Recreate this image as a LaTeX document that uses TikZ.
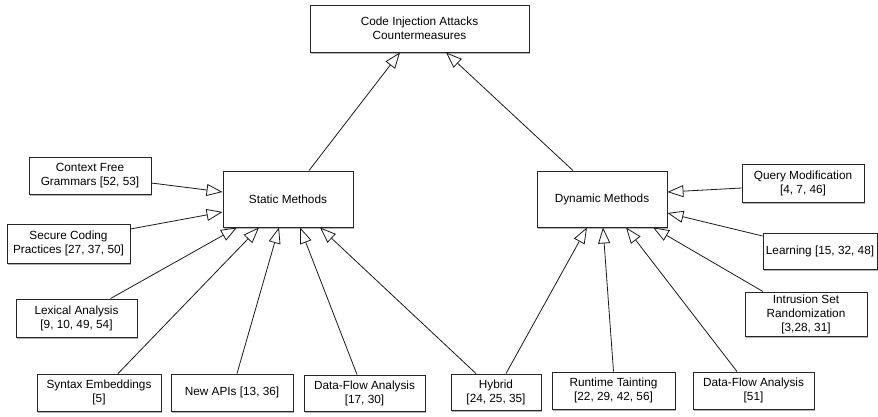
\documentclass[tikz,border=0pt]{standalone}
\usepackage{fontspec}
\setmainfont{Liberation Sans}
\usetikzlibrary{arrows.meta,shadows}

\tikzset{
    box/.style={draw=black!85, line width=0.9pt, fill=white, align=center,
        inner sep=0pt, font=\fontsize{11.8}{14}\selectfont,
        drop shadow={shadow xshift=1.2pt, shadow yshift=-2.2pt,
            fill=black, opacity=0.3}},
    isa/.style={draw=black!90, line width=0.8pt,
        -{Triangle[open, length=16pt, width=12pt, fill=white]}}
}

\begin{document}
\begin{tikzpicture}[x=1pt,y=-1pt]
    \useasboundingbox (0,0) rectangle (878,416);

    % root
    \node[box, minimum width=219pt, minimum height=47pt] (root) at (419.5,28.5)
        {Code Injection Attacks\\Countermeasures};

    % the two families
    \node[box, minimum width=130pt, minimum height=56pt] (static) at (288,199) {Static Methods};
    \node[box, minimum width=130pt, minimum height=56pt] (dynamic) at (602,199) {Dynamic Methods};

    % static leaves
    \node[box, minimum width=122pt, minimum height=37pt] (cfg) at (90,175.5) {Context Free\\Grammars [52, 53]};
    \node[box, minimum width=123pt, minimum height=39pt] (secure) at (68.5,243.5) {Secure Coding\\Practices [27, 37, 50]};
    \node[box, minimum width=121pt, minimum height=38pt] (lexical) at (76.5,318) {Lexical Analysis\\{[9, 10, 49, 54]}};
    \node[box, minimum width=124pt, minimum height=37pt] (syntax) at (99,392.5) {Syntax Embeddings\\{[5]}};
    \node[box, minimum width=122pt, minimum height=37pt] (newapi) at (232,392.5) {New APIs [13, 36]};
    \node[box, minimum width=121pt, minimum height=36pt] (dfstatic) at (364.5,393) {Data-Flow Analysis\\{[17, 30]}};

    % shared leaf
    \node[box, minimum width=90pt, minimum height=36pt] (hybrid) at (496,392) {Hybrid\\{[24, 25, 35]}};

    % dynamic leaves
    \node[box, minimum width=123pt, minimum height=37pt] (runtime) at (613.5,390.5) {Runtime Tainting\\{[22, 29, 42, 56]}};
    \node[box, minimum width=121pt, minimum height=37pt] (dfdynamic) at (753.5,390.5) {Data-Flow Analysis\\{[51]}};
    \node[box, minimum width=122pt, minimum height=38pt] (query) at (803,183) {Query Modification\\{[4, 7, 46]}};
    \node[box, minimum width=114pt, minimum height=36pt] (learning) at (820,251) {Learning [15, 32, 48]};
    \node[box, minimum width=122pt, minimum height=44pt] (intrusion) at (806,314) {Intrusion Set\\Randomization\\{[3,28, 31]}};

    % generalisations
    \draw[isa] ([xshift=21pt]static.north) -- ([xshift=-19.5pt]root.south);
    \draw[isa] ([xshift=-29pt]dynamic.north) -- ([xshift=26.5pt]root.south);

    \draw[isa] ([yshift=-7.5pt]cfg.east) -- ([yshift=7pt]static.west);
    \draw[isa] ([yshift=14.5pt]secure.east) -- ([yshift=-13pt]static.west);
    \draw[isa] ([xshift=34pt]lexical.north) -- ([xshift=-51pt]static.south);
    \draw[isa] ([xshift=19pt]syntax.north) -- ([xshift=-29pt]static.south);
    \draw[isa] ([xshift=5pt]newapi.north) -- ([xshift=-9pt]static.south);
    \draw[isa] ([xshift=-7.5pt]dfstatic.north) -- ([xshift=12pt]static.south);
    \draw[isa] ([xshift=-20pt]hybrid.north) -- ([xshift=32pt]static.south);

    \draw[isa] ([xshift=10pt]hybrid.north) -- ([xshift=-15pt]dynamic.south);
    \draw[isa] (runtime.north) -- ([xshift=1pt]dynamic.south);
    \draw[isa] ([xshift=-16.5pt]dfdynamic.north) -- ([xshift=24pt]dynamic.south);
    \draw[isa] ([xshift=-43pt]intrusion.north) -- ([xshift=51pt]dynamic.south);
    \draw[isa] ([yshift=-5pt]query.west) -- ([yshift=7pt]dynamic.east);
    \draw[isa] ([yshift=15pt]learning.west) -- ([yshift=-14pt]dynamic.east);

\end{tikzpicture}
\end{document}
